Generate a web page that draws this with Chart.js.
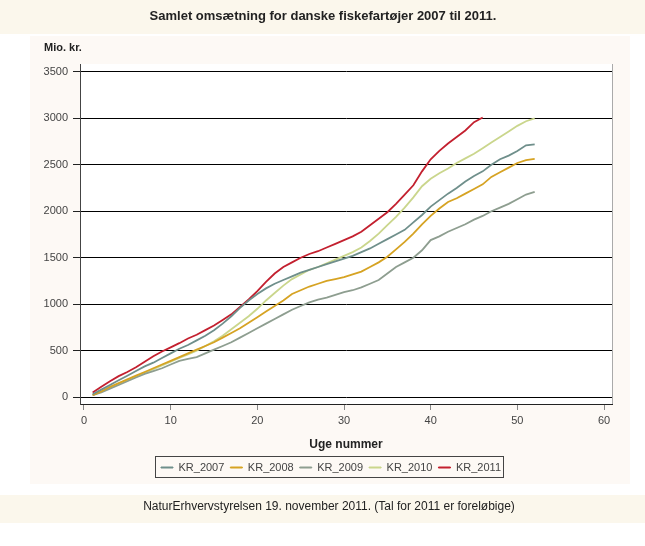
<!DOCTYPE html>
<html><head><meta charset="utf-8">
<script src="https://cdn.jsdelivr.net/npm/chart.js@4.4.1/dist/chart.umd.min.js"></script>
<style>html,body{margin:0;padding:0;background:#fff}#wrap{width:645px;height:546px;position:relative}</style>
</head><body><div id="wrap"><canvas id="c" width="645" height="546"></canvas></div>
<script>
const chartTitle = "Samlet omsætning for danske fiskefartøjer 2007 til 2011.";
const yUnit = "Mio. kr.";
const xTitle = "Uge nummer";
const caption = "NaturErhvervstyrelsen 19. november 2011. (Tal for 2011 er foreløbige)";
const seriesNames = ["KR_2007","KR_2008","KR_2009","KR_2010","KR_2011"];
const seriesColors = ["#6f8f8b","#d6a323","#8e9e90","#cad68c","#c3202f"];
const yTicks = [0,500,1000,1500,2000,2500,3000,3500];
const xTicks = [0,10,20,30,40,50,60];
const weeks = [1,2,3,4,5,6,7,8,9,10,11,12,13,14,15,16,17,18,19,20,21,22,23,24,25,26,27,28,29,30,31,32,33,34,35,36,37,38,39,40,41,42,43,44,45,46,47,48,49,50,51,52];
const kr2007 = [30,80,130,180,230,280,330,370,420,470,520,560,610,660,720,790,870,960,1040,1110,1170,1220,1260,1300,1340,1370,1400,1430,1460,1490,1520,1560,1600,1650,1700,1750,1800,1880,1960,2050,2120,2190,2250,2320,2380,2430,2500,2560,2600,2650,2710,2720];
const kr2008 = [20,60,110,150,190,230,270,310,350,390,430,470,510,550,590,640,690,740,800,860,920,980,1040,1110,1150,1190,1220,1250,1270,1290,1320,1350,1400,1450,1510,1590,1670,1760,1860,1950,2030,2100,2140,2190,2240,2290,2370,2420,2470,2520,2550,2565];
const kr2009 = [20,50,90,130,170,210,250,280,310,350,390,410,430,470,510,550,590,640,690,740,790,840,890,940,980,1020,1050,1070,1100,1130,1150,1180,1220,1260,1330,1400,1450,1500,1580,1690,1730,1780,1820,1860,1910,1950,2000,2040,2080,2130,2180,2210];
const kr2010 = [20,60,100,140,180,220,260,300,340,380,420,460,500,550,600,660,730,800,870,950,1040,1120,1200,1270,1320,1370,1400,1440,1480,1520,1560,1610,1680,1760,1850,1940,2040,2150,2270,2350,2410,2460,2520,2570,2620,2680,2740,2800,2860,2920,2970,3000];
const kr2011 = [50,110,170,225,270,320,380,440,490,535,580,630,670,720,770,830,890,970,1050,1140,1240,1330,1400,1450,1500,1540,1570,1610,1650,1690,1730,1780,1850,1920,1990,2080,2180,2280,2430,2560,2650,2730,2800,2870,2960,3010];
const allSeries = [kr2007,kr2008,kr2009,kr2010,kr2011];

const FONT = "'Liberation Sans', Arial, sans-serif";

const decor = {
  id: 'decor',
  afterUpdate(chart) {
    const lg = chart.legend;
    if (lg) { lg.left += 50; if (lg.adjustHitBoxes) lg.adjustHitBoxes(); }
  },
  beforeDraw(chart) {
    const ctx = chart.ctx, a = chart.chartArea;
    ctx.save();
    ctx.fillStyle = '#ffffff'; ctx.fillRect(0,0,645,546);
    ctx.fillStyle = '#fbf7ec'; ctx.fillRect(0,0,645,34);
    ctx.fillStyle = '#fdf9f5'; ctx.fillRect(30,36,600,448);
    ctx.fillStyle = '#fbf7ec'; ctx.fillRect(0,495,645,28);
    ctx.fillStyle = '#ffffff'; ctx.fillRect(a.left,a.top,a.right-a.left,a.bottom-a.top);
    ctx.restore();
  },
  afterDraw(chart) {
    const ctx = chart.ctx, a = chart.chartArea;
    ctx.save();
    ctx.strokeStyle = '#aaaaaa'; ctx.lineWidth = 1;
    ctx.beginPath(); ctx.moveTo(a.right+0.5, a.top); ctx.lineTo(a.right+0.5, a.bottom); ctx.stroke();
    ctx.fillStyle = '#222';
    ctx.textAlign = 'center'; ctx.textBaseline = 'middle';
    ctx.font = 'bold 13px ' + FONT;
    ctx.fillText(chartTitle, 323, 16);
    ctx.textAlign = 'left';
    ctx.font = 'bold 11px ' + FONT;
    ctx.fillText(yUnit, 44, 48);
    ctx.textAlign = 'center';
    ctx.font = '12px ' + FONT;
    ctx.fillText(caption, 329, 507);
    const lg = chart.legend;
    if (lg && lg.legendHitBoxes && lg.legendHitBoxes.length) {
      const hb = lg.legendHitBoxes;
      const l = hb[0].left - 6, r = hb[hb.length-1].left + hb[hb.length-1].width + 2;
      ctx.strokeStyle = '#444';
      ctx.strokeRect(Math.round(l)+0.5, 456.5, Math.round(r-l), 21);
    }
    ctx.restore();
  }
};

new Chart(document.getElementById('c'), {
  type: 'line',
  data: {
    datasets: seriesNames.map((n,i) => ({
      label: n,
      data: allSeries[i].map((v,j) => ({x: weeks[j], y: v})),
      borderColor: seriesColors[i],
      backgroundColor: seriesColors[i],
      borderWidth: 1.8,
      pointRadius: 0,
      tension: 0,
      fill: false
    }))
  },
  options: {
    responsive: false,
    animation: false,
    devicePixelRatio: 1,
    layout: { padding: { top: 64, left: 0, right: 33, bottom: 63 } },
    plugins: {
      legend: {
        position: 'bottom',
        labels: {
          font: { size: 11, family: FONT }, color: '#444', boxWidth: 12, boxHeight: 1, padding: 6,
          generateLabels: (chart) => Chart.defaults.plugins.legend.labels.generateLabels(chart).map(it => Object.assign(it, { lineWidth: 1 }))
        }
      },
      tooltip: { enabled: false },
      title: { display: false }
    },
    scales: {
      x: {
        type: 'linear', min: -0.46, max: 60.92,
        afterBuildTicks: s => { s.ticks = xTicks.map(v => ({value: v})); },
        afterFit: s => { s.height = 52; },
        ticks: { font: { size: 11, family: FONT }, color: '#444', padding: 4, callback: v => String(v) },
        grid: { drawOnChartArea: false, tickLength: 6, color: '#888', tickColor: '#888' },
        border: { color: '#222' },
        title: { display: true, text: xTitle, font: { size: 12, weight: 'bold', family: FONT }, color: '#222', padding: { top: 4, bottom: 4 } }
      },
      y: {
        min: -75, max: 3586,
        afterBuildTicks: s => { s.ticks = yTicks.map(v => ({value: v})); },
        afterFit: s => { s.width = 80; },
        ticks: { font: { size: 11, family: FONT }, color: '#444', padding: 5, callback: v => String(v) },
        grid: { color: '#000', lineWidth: 1, tickLength: 7, tickColor: '#222' },
        border: { color: '#444' }
      }
    }
  },
  plugins: [decor]
});
</script>
</body></html>
